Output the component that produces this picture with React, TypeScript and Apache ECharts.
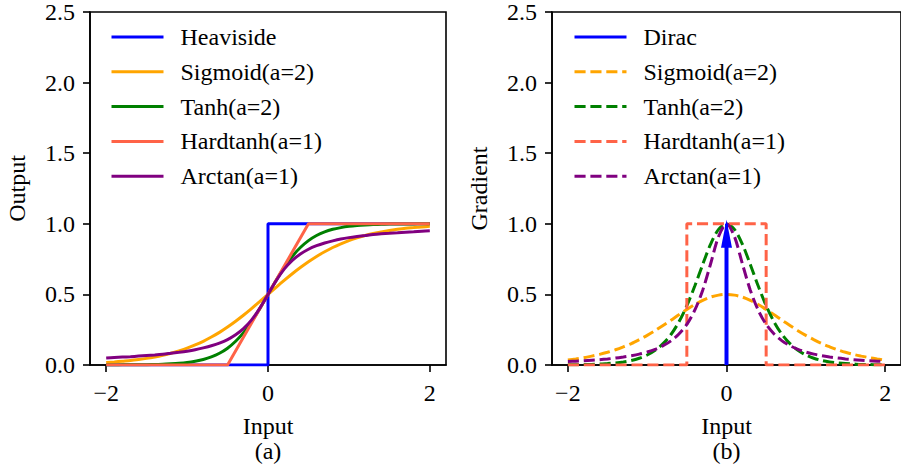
import React, { useEffect, useRef } from "react";
import * as echarts from "echarts";

const FONT = "Liberation Serif";

// sample positions
const xs = [-2.0, -1.9, -1.8, -1.7, -1.6, -1.5, -1.4, -1.3, -1.2, -1.1, -1.0, -0.9, -0.8, -0.7, -0.6, -0.5, -0.4, -0.3, -0.2, -0.1, 0, 0.1, 0.2, 0.3, 0.4, 0.5, 0.6, 0.7, 0.8, 0.9, 1.0, 1.1, 1.2, 1.3, 1.4, 1.5, 1.6, 1.7, 1.8, 1.9, 2.0];

// (a) outputs
const heavisideX = [-2, 0, 0, 2];
const heavisideY = [0, 0, 1, 1];
const sigmoidOut = [0.018, 0.022, 0.027, 0.032, 0.039, 0.047, 0.057, 0.069, 0.083, 0.100, 0.119, 0.142, 0.168, 0.198, 0.231, 0.269, 0.310, 0.354, 0.401, 0.450, 0.5, 0.550, 0.599, 0.646, 0.690, 0.731, 0.769, 0.802, 0.832, 0.858, 0.881, 0.900, 0.917, 0.931, 0.943, 0.953, 0.961, 0.968, 0.973, 0.978, 0.982];
const tanhOut = [0.000, 0.000, 0.001, 0.001, 0.002, 0.002, 0.004, 0.005, 0.008, 0.012, 0.018, 0.027, 0.039, 0.057, 0.083, 0.119, 0.168, 0.231, 0.310, 0.401, 0.5, 0.599, 0.690, 0.769, 0.832, 0.881, 0.917, 0.943, 0.961, 0.973, 0.982, 0.988, 0.992, 0.995, 0.996, 0.998, 0.998, 0.999, 0.999, 1.000, 1.000];
const hardtanhX = [-2, -0.5, 0.5, 2];
const hardtanhOut = [0, 0, 1, 1];
const arctanOut = [0.050, 0.053, 0.056, 0.059, 0.063, 0.067, 0.071, 0.076, 0.083, 0.090, 0.098, 0.108, 0.121, 0.136, 0.155, 0.180, 0.214, 0.259, 0.321, 0.403, 0.5, 0.597, 0.679, 0.741, 0.786, 0.820, 0.845, 0.864, 0.879, 0.892, 0.902, 0.910, 0.917, 0.924, 0.929, 0.933, 0.937, 0.941, 0.944, 0.947, 0.950];

// (b) gradients
const diracX = 0;
const diracHeight = 1;
const sigmoidGrad = [0.035, 0.043, 0.052, 0.063, 0.075, 0.090, 0.108, 0.129, 0.152, 0.180, 0.210, 0.243, 0.280, 0.317, 0.356, 0.393, 0.428, 0.458, 0.481, 0.495, 0.5, 0.495, 0.481, 0.458, 0.428, 0.393, 0.356, 0.317, 0.280, 0.243, 0.210, 0.180, 0.152, 0.129, 0.108, 0.090, 0.075, 0.063, 0.052, 0.043, 0.035];
const tanhGrad = [0.001, 0.002, 0.003, 0.004, 0.007, 0.010, 0.015, 0.022, 0.032, 0.048, 0.071, 0.104, 0.151, 0.216, 0.305, 0.420, 0.559, 0.712, 0.856, 0.961, 1.000, 0.961, 0.856, 0.712, 0.559, 0.420, 0.305, 0.216, 0.151, 0.104, 0.071, 0.048, 0.032, 0.022, 0.015, 0.010, 0.007, 0.004, 0.003, 0.002, 0.001];
const hardtanhGradX = [-2, -0.5, -0.5, 0.5, 0.5, 2];
const hardtanhGrad = [0, 0, 1, 1, 0, 0];
const arctanGrad = [0.025, 0.027, 0.030, 0.034, 0.038, 0.043, 0.049, 0.057, 0.066, 0.077, 0.092, 0.111, 0.137, 0.171, 0.220, 0.288, 0.388, 0.530, 0.717, 0.910, 1.000, 0.910, 0.717, 0.530, 0.388, 0.288, 0.220, 0.171, 0.137, 0.111, 0.092, 0.077, 0.066, 0.057, 0.049, 0.043, 0.038, 0.034, 0.030, 0.027, 0.025];

const xTicks = [-2, 0, 2];
const leftNames = ["Heaviside", "Sigmoid(a=2)", "Tanh(a=2)", "Hardtanh(a=1)", "Arctan(a=1)"];
const rightNames = ["Dirac", "Sigmoid(a=2)#g", "Tanh(a=2)#g", "Hardtanh(a=1)#g", "Arctan(a=1)#g"];

const BLUE = "#0000ff";
const ORANGE = "#ffa500";
const GREEN = "#008000";
const TOMATO = "#ff6347";
const PURPLE = "#800080";

const zip = (a: number[], b: number[]) => a.map((v, i) => [v, b[i]]);

function xAxisCfg(gridIndex: number, name: string) {
  return {
    type: "value",
    gridIndex,
    min: -2.2,
    max: 2.2,
    axisLine: { show: true, onZero: false, lineStyle: { color: "#000", width: 1.6 } },
    axisTick: { show: true, length: 7, customValues: xTicks, lineStyle: { color: "#000", width: 1.6 } },
    axisLabel: {
      fontSize: 24,
      fontFamily: FONT,
      color: "#000",
      customValues: xTicks,
      margin: 16,
      formatter: (v: number) => (v < 0 ? "\u2212" + Math.abs(v) : String(v)),
    },
    splitLine: { show: false },
    name,
    nameLocation: "middle",
    nameGap: 48,
    nameTextStyle: { fontSize: 24, fontFamily: FONT, color: "#000", lineHeight: 25 },
  };
}

function yAxisCfg(gridIndex: number, name: string) {
  return {
    type: "value",
    gridIndex,
    min: 0,
    max: 2.5,
    interval: 0.5,
    axisLine: { show: true, onZero: false, lineStyle: { color: "#000", width: 1.6 } },
    axisTick: { show: true, length: 7, lineStyle: { color: "#000", width: 1.6 } },
    axisLabel: { fontSize: 24, fontFamily: FONT, color: "#000", margin: 15, formatter: (v: number) => v.toFixed(1) },
    splitLine: { show: false },
    name,
    nameLocation: "middle",
    nameGap: 61,
    nameRotate: 90,
    nameTextStyle: { fontSize: 24, fontFamily: FONT, color: "#000" },
  };
}

const DASH = [11.1, 4.8];

function lineSeries(name: string, axis: number, data: number[][], color: string, dashed: boolean, smooth: boolean) {
  return {
    type: "line",
    name,
    xAxisIndex: axis,
    yAxisIndex: axis,
    data,
    symbol: "none",
    showSymbol: false,
    smooth: smooth ? 0.3 : false,
    clip: true,
    itemStyle: { color },
    lineStyle: { color, width: 3, type: dashed ? DASH : "solid", cap: "butt" },
    silent: true,
  };
}

function legendCfg(left: number, data: string[]) {
  return {
    left,
    top: 25,
    orient: "vertical",
    itemWidth: 52,
    itemHeight: 1,
    itemGap: 10.8,
    padding: 0,
    selectedMode: false,
    data,
    formatter: (n: string) => n.replace("#g", ""),
    itemStyle: { opacity: 0 },
    lineStyle: { width: 3 },
    textStyle: { fontSize: 24, fontFamily: FONT, color: "#000", lineHeight: 24, padding: [0, 0, 0, 12] },
  };
}

export default function App() {
  const ref = useRef<HTMLDivElement>(null);
  useEffect(() => {
    document.body.style.margin = "0";
    const chart = echarts.init(ref.current!, null, { renderer: "svg" });
    const option = {
      animation: false,
      backgroundColor: "#fff",
      textStyle: { fontFamily: FONT },
      grid: [
        { left: 90, top: 8, width: 356, height: 359, show: true, borderColor: "#000", borderWidth: 1.6, backgroundColor: "transparent" },
        { left: 552, top: 8, width: 356, height: 359, show: true, borderColor: "#000", borderWidth: 1.6, backgroundColor: "transparent" },
      ],
      xAxis: [xAxisCfg(0, "Input\n(a)"), xAxisCfg(1, "Input\n(b)")],
      yAxis: [yAxisCfg(0, "Output"), yAxisCfg(1, "Gradient")],
      legend: [legendCfg(110, leftNames), legendCfg(573, rightNames)],
      series: [
        lineSeries("Heaviside", 0, zip(heavisideX, heavisideY), BLUE, false, false),
        lineSeries("Sigmoid(a=2)", 0, zip(xs, sigmoidOut), ORANGE, false, true),
        lineSeries("Tanh(a=2)", 0, zip(xs, tanhOut), GREEN, false, true),
        lineSeries("Hardtanh(a=1)", 0, zip(hardtanhX, hardtanhOut), TOMATO, false, false),
        lineSeries("Arctan(a=1)", 0, zip(xs, arctanOut), PURPLE, false, true),
        lineSeries("Sigmoid(a=2)#g", 1, zip(xs, sigmoidGrad), ORANGE, true, true),
        lineSeries("Tanh(a=2)#g", 1, zip(xs, tanhGrad), GREEN, true, true),
        lineSeries("Hardtanh(a=1)#g", 1, zip(hardtanhGradX, hardtanhGrad), TOMATO, true, false),
        lineSeries("Arctan(a=1)#g", 1, zip(xs, arctanGrad), PURPLE, true, true),
        { ...lineSeries("Dirac", 1, [[diracX, 0], [diracX, diracHeight]], BLUE, false, false), z: 5 },
        {
          type: "custom",
          xAxisIndex: 1,
          yAxisIndex: 1,
          z: 6,
          silent: true,
          data: [[diracX, diracHeight]],
          encode: { x: 0, y: 1 },
          renderItem: (params: any, api: any) => {
            const x = api.value(0);
            const h = api.value(1);
            const base = api.coord([x, 0]);
            const top = api.coord([x, h]);
            const tipY = top[1] - 4;
            const headLen = 28;
            const headW = 11;
            const shaftW = 4;
            return {
              type: "group",
              children: [
                {
                  type: "rect",
                  shape: { x: base[0] - shaftW / 2, y: tipY + headLen - 1, width: shaftW, height: base[1] - (tipY + headLen - 1) },
                  style: { fill: BLUE },
                },
                {
                  type: "polygon",
                  shape: { points: [[base[0] - headW / 2, tipY + headLen], [base[0] + headW / 2, tipY + headLen], [base[0], tipY]] },
                  style: { fill: BLUE },
                },
              ],
            };
          },
        },
      ],
    };
    chart.setOption(option as any);
    return () => chart.dispose();
  }, []);
  return <div ref={ref} style={{ width: 901, height: 468 }} />;
}
